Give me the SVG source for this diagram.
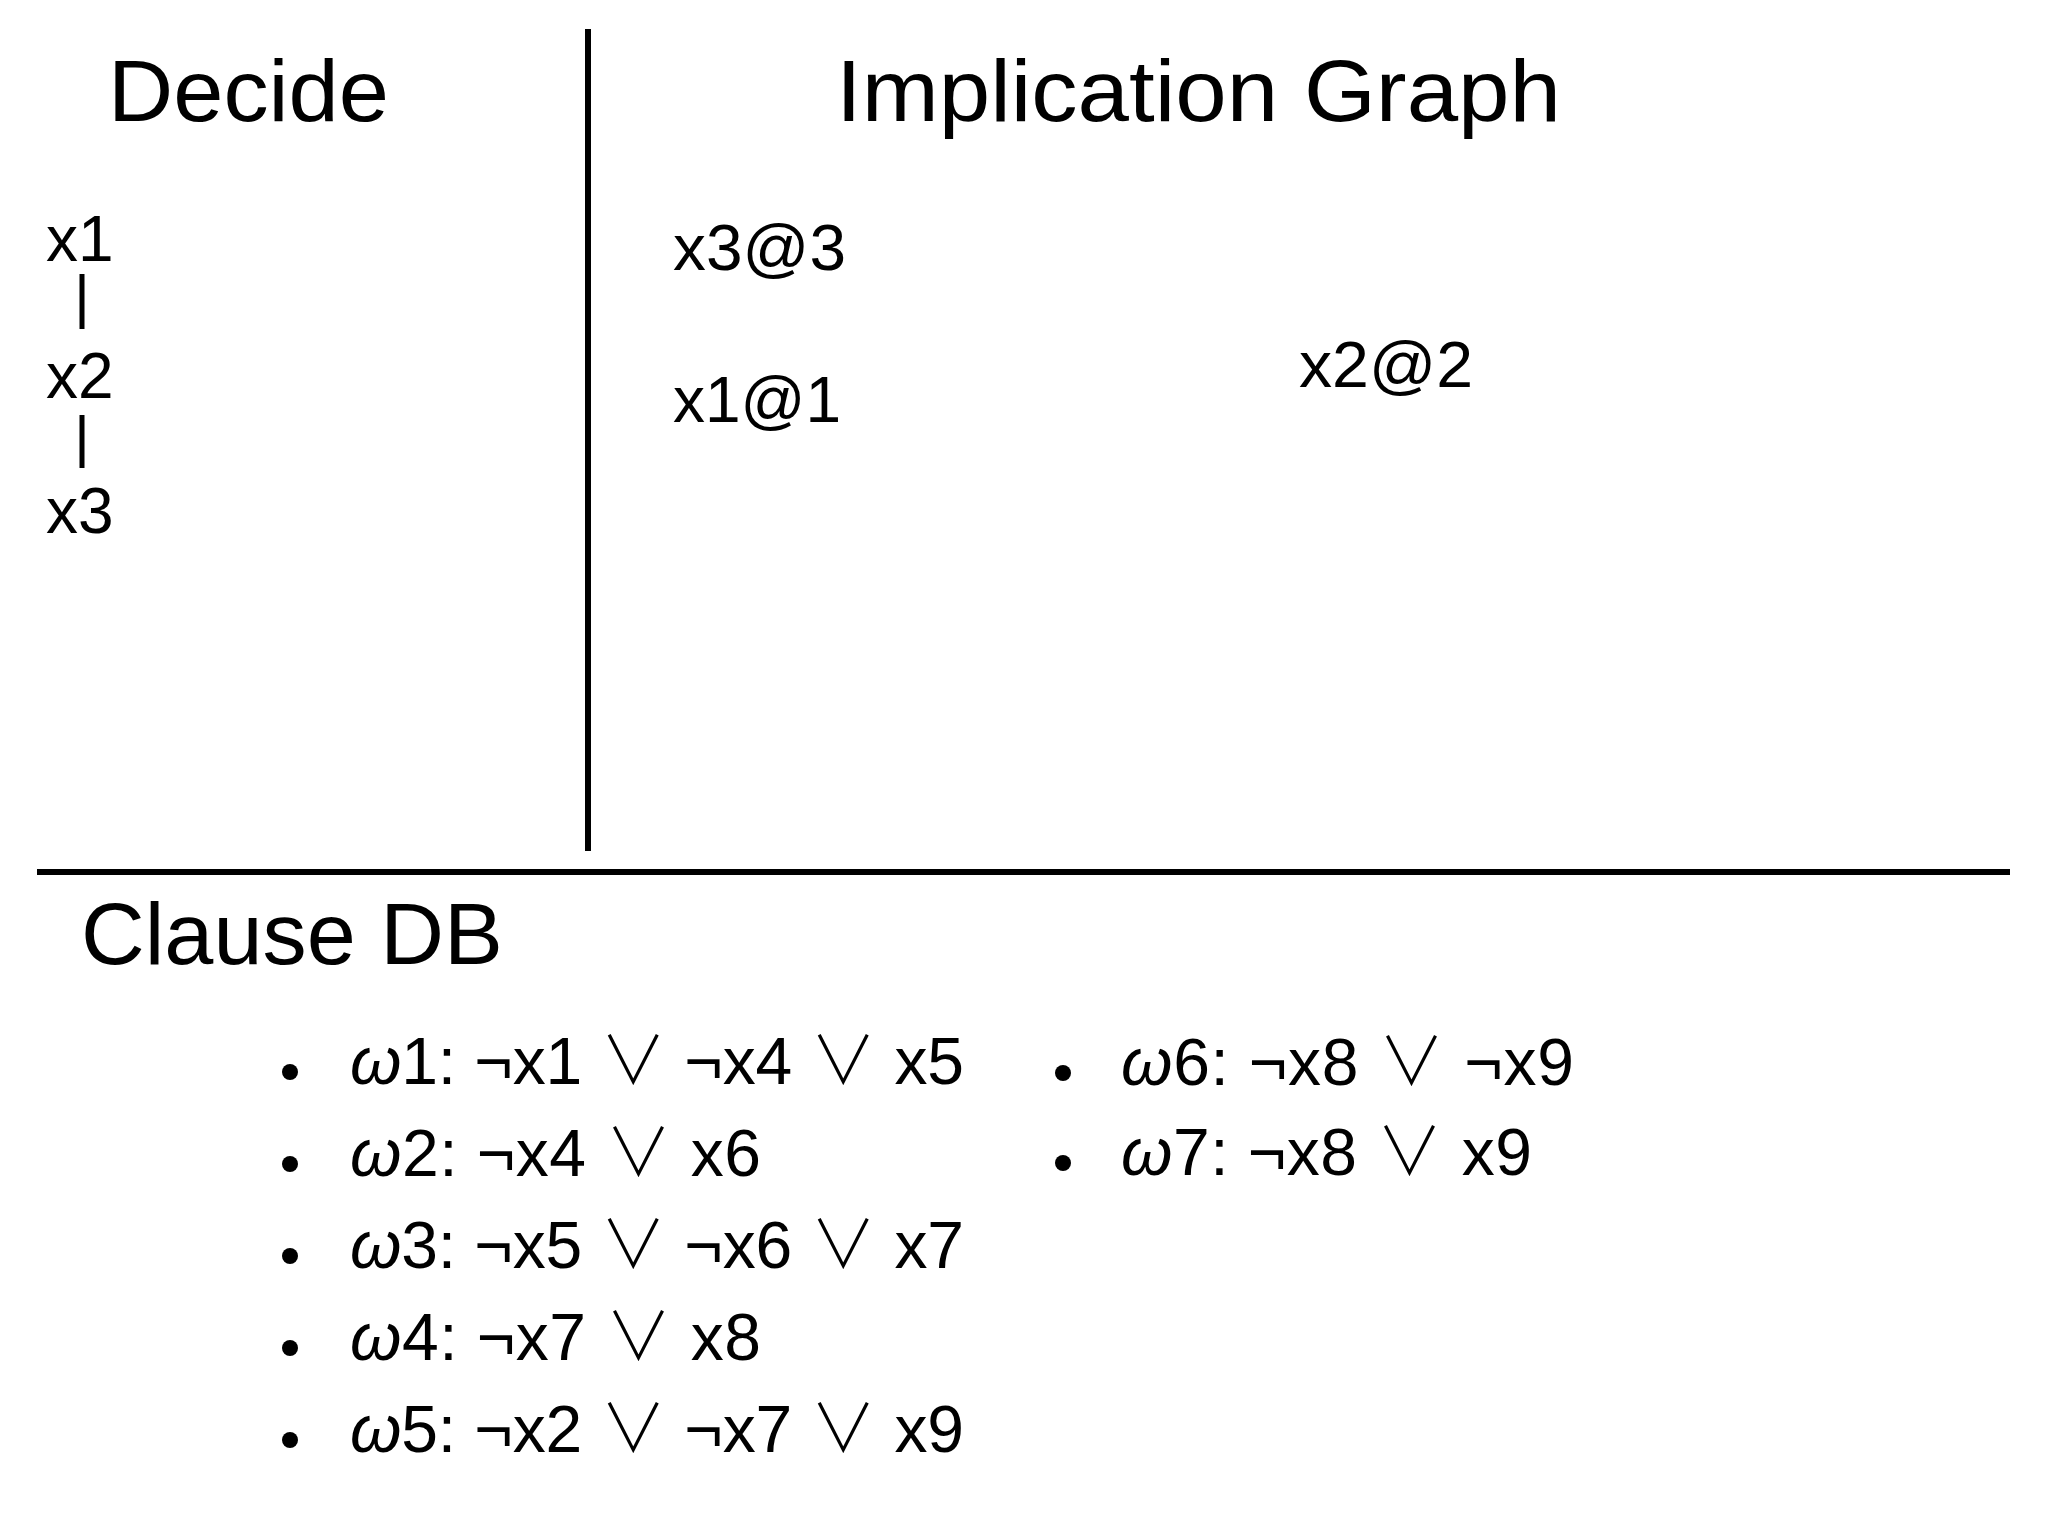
<svg xmlns="http://www.w3.org/2000/svg" width="2048" height="1536" viewBox="0 0 2048 1536">
<style>
text{font-family:"Liberation Sans","DejaVu Sans",sans-serif;fill:#000}
.h{font-size:88px}
.v{font-size:64px}
.c{font-size:66px}
.w{font-style:italic}
.o{font-family:"Noto Sans CJK JP","DejaVu Sans",sans-serif;font-weight:300}
.rule{stroke:#000;stroke-width:6}
.bar{stroke:#000;stroke-width:5}
</style>
<rect width="2048" height="1536" fill="#fff"/>
<g id="dividers">
<line class="rule" x1="588" y1="29" x2="588" y2="851"/>
<line class="rule" x1="37" y1="872" x2="2010" y2="872"/>
</g>
<g id="decide">
<text class="h" x="108" y="121" textLength="281" lengthAdjust="spacingAndGlyphs">Decide</text>
<g id="decide-x1"><text class="v" x="46" y="261">x1</text></g>
<g id="decide-x2"><text class="v" x="46" y="398">x2</text></g>
<g id="decide-x3"><text class="v" x="46" y="533">x3</text></g>
</g>
<g id="connectors">
<line class="bar" x1="82" y1="274" x2="82" y2="329"/>
<line class="bar" x1="82" y1="415" x2="82" y2="468"/>
</g>
<g id="implication-graph">
<text class="h" x="836" y="121" textLength="725" lengthAdjust="spacingAndGlyphs">Implication Graph</text>
<g id="node-x3"><text class="v" x="673" y="270" textLength="173" lengthAdjust="spacingAndGlyphs">x3@3</text></g>
<g id="node-x1"><text class="v" x="673" y="422">x1@1</text></g>
<g id="node-x2"><text class="v" x="1299" y="387" textLength="174" lengthAdjust="spacingAndGlyphs">x2@2</text></g>
</g>
<g id="clause-db">
<text class="h" x="81" y="964" textLength="422" lengthAdjust="spacingAndGlyphs">Clause DB</text>
<g id="w1"><circle cx="290" cy="1072" r="8"/><text class="c" x="350" y="1084" textLength="614" lengthAdjust="spacing"><tspan class="w">ω</tspan>1: ¬x1 <tspan class="o">∨</tspan> ¬x4 <tspan class="o">∨</tspan> x5</text></g>
<g id="w2"><circle cx="290" cy="1164" r="8"/><text class="c" x="350" y="1176" textLength="411" lengthAdjust="spacing"><tspan class="w">ω</tspan>2: ¬x4 <tspan class="o">∨</tspan> x6</text></g>
<g id="w3"><circle cx="290" cy="1256" r="8"/><text class="c" x="350" y="1268" textLength="614" lengthAdjust="spacing"><tspan class="w">ω</tspan>3: ¬x5 <tspan class="o">∨</tspan> ¬x6 <tspan class="o">∨</tspan> x7</text></g>
<g id="w4"><circle cx="290" cy="1348" r="8"/><text class="c" x="350" y="1360" textLength="411" lengthAdjust="spacing"><tspan class="w">ω</tspan>4: ¬x7 <tspan class="o">∨</tspan> x8</text></g>
<g id="w5"><circle cx="290" cy="1440" r="8"/><text class="c" x="350" y="1452" textLength="614" lengthAdjust="spacing"><tspan class="w">ω</tspan>5: ¬x2 <tspan class="o">∨</tspan> ¬x7 <tspan class="o">∨</tspan> x9</text></g>
<g id="w6"><circle cx="1063" cy="1073" r="8"/><text class="c" x="1121" y="1085" textLength="453" lengthAdjust="spacing"><tspan class="w">ω</tspan>6: ¬x8 <tspan class="o">∨</tspan> ¬x9</text></g>
<g id="w7"><circle cx="1063" cy="1163" r="8"/><text class="c" x="1121" y="1175" textLength="411" lengthAdjust="spacing"><tspan class="w">ω</tspan>7: ¬x8 <tspan class="o">∨</tspan> x9</text></g>
</g>
</svg>
